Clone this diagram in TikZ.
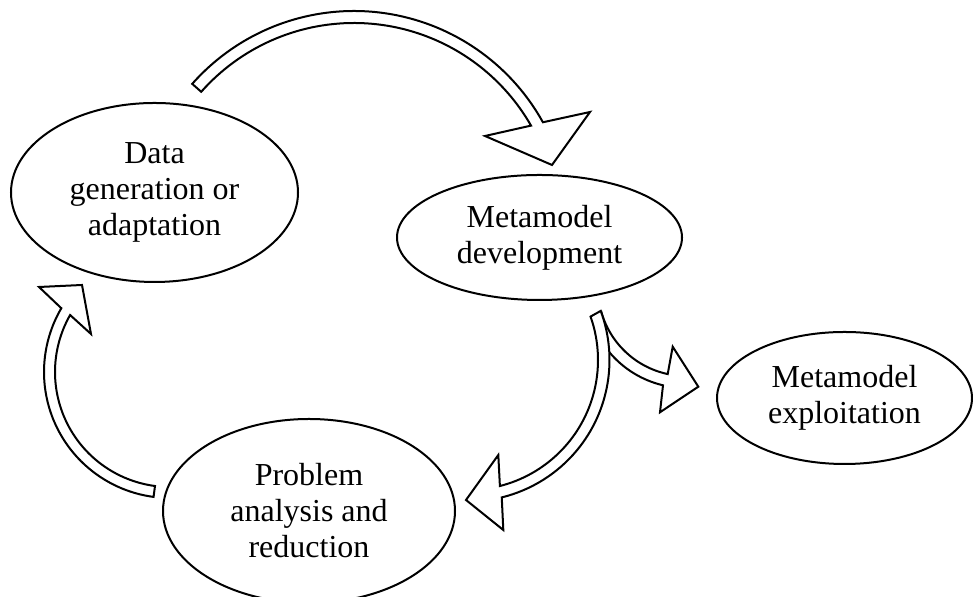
\documentclass[tikz,border=0pt]{standalone}
\usepackage{fontspec}
\setmainfont{Liberation Serif}
\usetikzlibrary{shapes.geometric,calc}

\tikzset{
  stage/.style={ellipse, draw, line width=1pt, inner sep=0pt, align=center,
    font=\fontsize{16}{18}\selectfont},
  blockarrow/.style={draw, fill=white, line width=1pt, line join=miter},
}

\begin{document}
\begin{tikzpicture}[x=0.5pt,y=0.5pt]
  \useasboundingbox (0,0) rectangle (973,597);

  % the four stages
  \node[stage, minimum width=143.5pt, minimum height=89.5pt] (gen) at (154.5,404.5) {Data\\generation or\\adaptation};
  \node[stage, minimum width=142.5pt, minimum height=62.5pt] (dev) at (539.5,359.5) {Metamodel\\development};
  \node[stage, minimum width=127.5pt, minimum height=66pt] (exploit) at (844.5,199) {Metamodel\\exploitation};
  \node[stage, minimum width=146pt, minimum height=92pt] (prob) at (309,86) {Problem\\analysis and\\reduction};

  % centres of the curved block arrows
  \coordinate (c-top) at (354,370);
  \coordinate (c-left) at (170,225);
  \coordinate (c-down) at (468,237);
  \coordinate (c-out) at (686,309);

  % gen -> dev
  \draw[blockarrow] ($(c-top)+(138.5:216)$) arc[start angle=138.5, end angle=29, radius=216]
    -- (590,485) -- (552,432) -- (485,461) -- ($(c-top)+(29.8:204)$)
    arc[start angle=29.8, end angle=138.5, radius=204] -- cycle;

  % prob -> gen
  \draw[blockarrow] ($(c-left)+(262.5:126)$) arc[start angle=262.5, end angle=149.6, radius=126]
    -- (39,310) -- (82,312) -- (91,263) -- ($(c-left)+(150.3:115)$)
    arc[start angle=150.3, end angle=262.5, radius=115] -- cycle;

  % dev -> exploit (under the next one)
  \draw[blockarrow] ($(c-out)+(195:88)$) arc[start angle=195, end angle=258, radius=88]
    -- (672.7,250.3) -- (698.3,210.3) -- (660,184.7) -- ($(c-out)+(256.7:100)$)
    arc[start angle=256.7, end angle=219.7, radius=100] -- cycle;

  % dev -> prob
  \draw[blockarrow] ($(c-down)+(20.3:141.5)$) arc[start angle=20.3, end angle=-76.2, radius=141.5]
    -- (503.3,67) -- (466,97) -- (498.3,142) -- ($(c-down)+(-75.8:130)$)
    arc[start angle=-75.8, end angle=19.5, radius=130] -- cycle;
\end{tikzpicture}
\end{document}
